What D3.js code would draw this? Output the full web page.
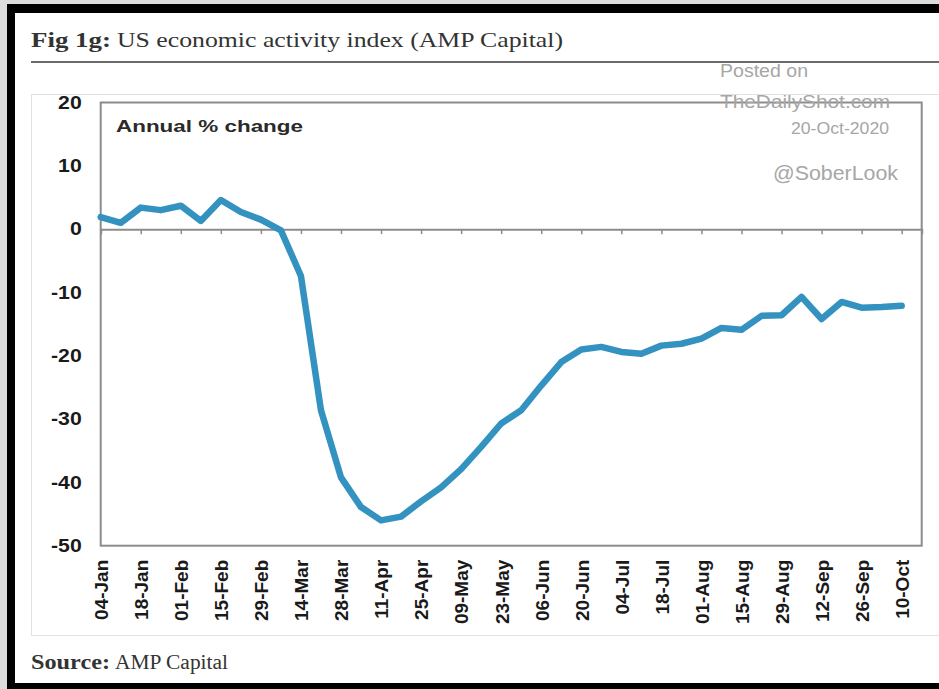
<!DOCTYPE html>
<html>
<head>
<meta charset="utf-8">
<script src="https://cdn.jsdelivr.net/npm/d3@7"></script>
<style>
  html, body { margin: 0; padding: 0; background: #dcdcdc; }
  svg { display: block; }
</style>
</head>
<body>
<svg id="chart" width="939" height="689"></svg>
<script>
// Weekly readings of the US economic activity index, annual % change
const firstWeek = "2020-01-04";
const activityValues = [
  1.9, 1.0, 3.4, 3.0, 3.7, 1.3, 4.6, 2.7, 1.5, -0.2,
  -7.4, -28.6, -39.2, -43.9, -46.0, -45.4, -43.0, -40.8, -37.9, -34.4,
  -30.7, -28.6, -24.7, -21.0, -19.0, -18.6, -19.4, -19.7, -18.4, -18.1,
  -17.3, -15.6, -15.9, -13.7, -13.6, -10.7, -14.2, -11.5, -12.4, -12.3,
  -12.1
];
const xTickLabels = [
  "04-Jan", "18-Jan", "01-Feb", "15-Feb", "29-Feb", "14-Mar", "28-Mar",
  "11-Apr", "25-Apr", "09-May", "23-May", "06-Jun", "20-Jun", "04-Jul",
  "18-Jul", "01-Aug", "15-Aug", "29-Aug", "12-Sep", "26-Sep", "10-Oct"
];
const yTickValues = [20, 10, 0, -10, -20, -30, -40, -50];

const svg = d3.select("#chart");
const W = 939, H = 689;

// stretch glyphs horizontally by factor k
function widen(sel, k) {
  sel.each(function () {
    const w = this.getComputedTextLength();
    this.setAttribute("textLength", w * k);
    this.setAttribute("lengthAdjust", "spacingAndGlyphs");
  });
}

// frame: grey surround, black border, white page
svg.append("rect").attr("width", W).attr("height", H).attr("fill", "#dcdcdc");
svg.append("rect").attr("x", 7).attr("y", 4).attr("width", W).attr("height", H).attr("fill", "#000");
svg.append("rect").attr("x", 15).attr("y", 13).attr("width", W).attr("height", 670).attr("fill", "#fff");

// heading
const serif = "Georgia, 'Liberation Serif', 'Times New Roman', serif";
svg.append("text").attr("x", 31).attr("y", 47)
  .attr("font-family", serif).attr("font-size", 22).attr("font-weight", "bold")
  .attr("fill", "#333").attr("textLength", 80).attr("lengthAdjust", "spacingAndGlyphs")
  .text("Fig 1g:");
svg.append("text").attr("x", 117).attr("y", 47)
  .attr("font-family", serif).attr("font-size", 22)
  .attr("fill", "#333").attr("textLength", 446).attr("lengthAdjust", "spacingAndGlyphs")
  .text("US economic activity index (AMP Capital)");
svg.append("line").attr("x1", 31).attr("x2", W).attr("y1", 62).attr("y2", 62)
  .attr("stroke", "#6a6a6a").attr("stroke-width", 2.2);

// chart area outline
svg.append("rect").attr("x", 31.5).attr("y", 94.5).attr("width", W).attr("height", 541)
  .attr("fill", "none").attr("stroke", "#e2e2e2").attr("stroke-width", 1);

// scales
const parse = d3.timeParse("%Y-%m-%d");
const start = parse(firstWeek);
const weeks = activityValues.map((v, i) => ({ date: d3.timeDay.offset(start, 7 * i), value: v }));
const end = d3.timeDay.offset(start, 7 * activityValues.length);

const plotLeft = 100.7, plotRight = 921.7, plotTop = 102.5, plotBottom = 545.7;
const x = d3.scaleTime().domain([start, end]).range([plotLeft, plotRight]);
const y = d3.scaleLinear().domain([-50, 20]).range([plotBottom, plotTop]);
const tickDates = xTickLabels.map((_, i) => d3.timeDay.offset(start, 14 * i));

const axisColor = "#8c8c8c";
const sans = "Arial, 'Liberation Sans', Helvetica, sans-serif";

// plot frame
svg.append("rect").attr("x", plotLeft).attr("y", plotTop)
  .attr("width", plotRight - plotLeft).attr("height", plotBottom - plotTop)
  .attr("fill", "none").attr("stroke", axisColor).attr("stroke-width", 2);

// zero line with tick marks
const zeroAxis = svg.append("g").attr("transform", `translate(0,${y(0)})`)
  .call(d3.axisBottom(x).tickValues(tickDates).tickSize(5).tickFormat(""));
zeroAxis.select(".domain").attr("stroke", axisColor).attr("stroke-width", 2);
zeroAxis.selectAll(".tick line").attr("stroke", axisColor).attr("stroke-width", 1.5);

// date labels below the frame
const xLab = svg.append("g").attr("transform", `translate(0,${plotBottom})`)
  .call(d3.axisBottom(x).tickValues(tickDates).tickSize(0)
    .tickFormat((d, i) => xTickLabels[i]));
xLab.select(".domain").remove();
xLab.selectAll(".tick text")
  .attr("font-family", sans).attr("font-size", 19).attr("font-weight", "bold")
  .attr("fill", "#1a1a1a")
  .attr("text-anchor", "end")
  .attr("transform", "rotate(-90)")
  .attr("x", -14).attr("y", 0).attr("dy", "0.36em");

// value labels (plain hyphen for negatives)
const yLab = svg.append("g").attr("transform", `translate(${plotLeft},0)`)
  .call(d3.axisLeft(y).tickValues(yTickValues).tickSize(0).tickPadding(19)
    .tickFormat(d => String(d)));
yLab.select(".domain").remove();
yLab.selectAll(".tick text")
  .attr("font-family", sans).attr("font-size", 18).attr("font-weight", "bold")
  .attr("fill", "#1a1a1a");
widen(yLab.selectAll(".tick text"), 1.18);

// series line
const line = d3.line().x(d => x(d.date)).y(d => y(d.value));
svg.append("path").datum(weeks)
  .attr("d", line)
  .attr("fill", "none").attr("stroke", "#3492c0").attr("stroke-width", 6.5)
  .attr("stroke-linejoin", "round").attr("stroke-linecap", "round");

// in-plot caption
svg.append("text").attr("x", 116).attr("y", 132)
  .attr("font-family", sans).attr("font-size", 17).attr("font-weight", "bold")
  .attr("fill", "#2a2a2a").attr("textLength", 187).attr("lengthAdjust", "spacingAndGlyphs")
  .text("Annual % change");

// publication stamp
const stamp = [
  { t: "Posted on", x: 720, yb: 77, fs: 18, len: 88, anchor: "start" },
  { t: "TheDailyShot.com", x: 720, yb: 108, fs: 19, len: 170, anchor: "start" },
  { t: "20-Oct-2020", x: 889, yb: 134, fs: 16, len: 98, anchor: "end" },
  { t: "@SoberLook", x: 773, yb: 180, fs: 20, len: 125, anchor: "start" }
];
svg.selectAll("text.stamp").data(stamp).join("text")
  .attr("class", "stamp")
  .attr("x", d => d.x).attr("y", d => d.yb)
  .attr("text-anchor", d => d.anchor)
  .attr("font-family", sans).attr("font-size", d => d.fs)
  .attr("fill", "#a6a6a6")
  .attr("textLength", d => d.len).attr("lengthAdjust", "spacingAndGlyphs")
  .text(d => d.t);

// source note
svg.append("text").attr("x", 31).attr("y", 669)
  .attr("font-family", serif).attr("font-size", 20).attr("font-weight", "bold")
  .attr("fill", "#333").attr("textLength", 79).attr("lengthAdjust", "spacingAndGlyphs")
  .text("Source:");
svg.append("text").attr("x", 115).attr("y", 669)
  .attr("font-family", serif).attr("font-size", 20)
  .attr("fill", "#333").attr("textLength", 113).attr("lengthAdjust", "spacingAndGlyphs")
  .text("AMP Capital");
</script>
</body>
</html>
